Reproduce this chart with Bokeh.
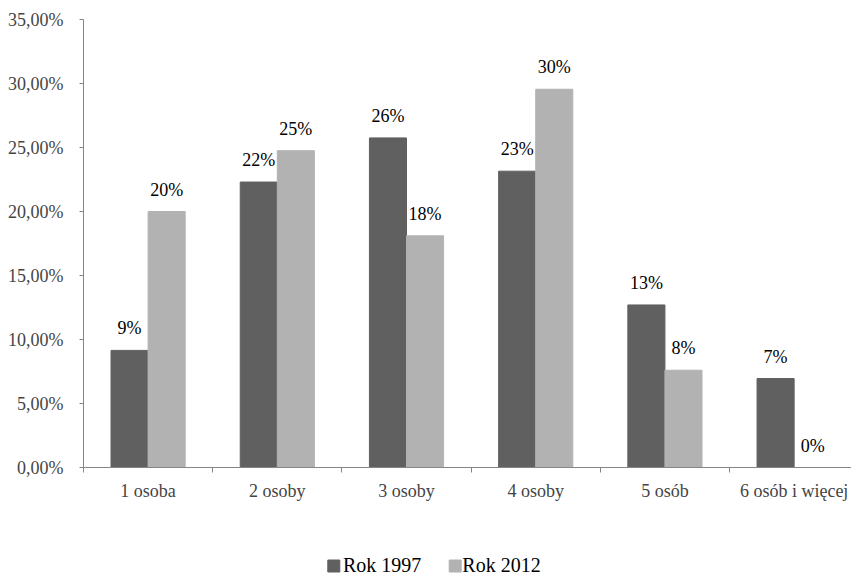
from bokeh.plotting import figure
from bokeh.layouts import column
from bokeh.models import FixedTicker, CustomJSTickFormatter, Range1d, Legend, LegendItem
from bokeh.core.properties import value
from bokeh.embed import file_html
from bokeh.resources import INLINE

# Household size categories and shares (%) per survey year
categories = ["1 osoba", "2 osoby", "3 osoby", "4 osoby", "5 osób", "6 osób i więcej"]
rok_1997 = [9.15, 22.3, 25.75, 23.15, 12.7, 6.95]
rok_2012 = [20.0, 24.75, 18.1, 29.55, 7.6, 0.0]
series_names = ["Rok 1997", "Rok 2012"]
y_ticks = [0, 5, 10, 15, 20, 25, 30, 35]

FONT = "Tinos"
DARK = "#606060"
LIGHT = "#b2b2b2"
AXIS = "#868686"

n = len(categories)
centers = [i + 0.5 for i in range(n)]
bar_w = 0.287
x97 = [c - bar_w / 2 for c in centers]
x12 = [c + bar_w / 2 for c in centers]
lab97 = [f"{round(v + 1e-9):d}%" for v in rok_1997]
lab12 = [f"{round(v + 1e-9):d}%" for v in rok_2012]

p = figure(width=851, height=515, output_backend="svg", toolbar_location=None,
           x_range=Range1d(0, 5.944), y_range=Range1d(0, 35),
           min_border_left=83, min_border_right=0, min_border_top=19,
           min_border_bottom=48)
p.outline_line_color = None
p.xgrid.visible = False
p.ygrid.visible = False

p.text(x=[0], y=[0], text=[" "], text_font=value(FONT), text_font_size="18px")

p.vbar(x=x97, top=rok_1997, width=bar_w, fill_color=DARK, line_color=DARK)
p.vbar(x=x12, top=rok_2012, width=bar_w, fill_color=LIGHT, line_color=LIGHT)

# value labels above the bars
p.text(x=x97, y=rok_1997, text=lab97, text_align="center", text_baseline="bottom",
       y_offset=-12, text_font=value(FONT), text_font_size="18px")
p.text(x=x12, y=rok_2012, text=lab12, text_align="center", text_baseline="bottom",
       y_offset=-12, text_font=value(FONT), text_font_size="18px")

# y axis
ya = p.yaxis[0]
ya.ticker = FixedTicker(ticks=y_ticks)
ya.formatter = CustomJSTickFormatter(
    code="return tick.toFixed(2).replace('.', ',') + '%';")
ya.axis_line_color = AXIS
ya.major_tick_line_color = AXIS
ya.major_tick_in = 0
ya.major_tick_out = 4
ya.minor_tick_line_color = None
ya.major_label_standoff = 16
ya.major_label_text_font = FONT
ya.major_label_text_font_size = "18px"

# x axis: names at category centres, ticks at category boundaries
xa = p.xaxis[0]
xa.ticker = FixedTicker(ticks=centers, minor_ticks=list(range(n + 1)))
xa.major_label_overrides = {c: name for c, name in zip(centers, categories)}
xa.axis_line_color = AXIS
xa.major_tick_line_color = None
xa.major_tick_in = 0
xa.major_tick_out = 0
xa.minor_tick_line_color = AXIS
xa.minor_tick_in = 0
xa.minor_tick_out = 5
xa.major_label_standoff = 8
xa.major_label_text_font = FONT
xa.major_label_text_font_size = "18px"

# legend strip underneath the chart (data x equals canvas pixel x)
lg = figure(width=851, height=59, output_backend="svg", toolbar_location=None,
            x_range=Range1d(83, 851), y_range=Range1d(0, 59), min_border=0,
            x_axis_location=None, y_axis_location=None)
lg.outline_line_color = None
lg.grid.visible = False
lg.rect(x=[333.3, 454.7], y=[8.5, 8.5], width=12, height=12,
        fill_color=[DARK, LIGHT], line_color=[DARK, LIGHT])
h97 = lg.rect(x=[-1000], y=[0], width=1, height=1, fill_alpha=0, line_alpha=0)
h12 = lg.rect(x=[-1000], y=[0], width=1, height=1, fill_alpha=0, line_alpha=0)
legend = Legend(items=[LegendItem(label=series_names[0], renderers=[h97]),
                       LegendItem(label=series_names[1], renderers=[h12])],
                orientation="horizontal", location=(244, -3),
                padding=0, margin=0, spacing=25, label_standoff=4,
                glyph_width=12, glyph_height=12,
                label_text_font="serif", label_text_font_size="20px",
                label_text_color="black",
                border_line_color=None, background_fill_alpha=0)
lg.add_layout(legend, "center")

open("out.html", "w").write(file_html(column(p, lg, spacing=0), INLINE))
